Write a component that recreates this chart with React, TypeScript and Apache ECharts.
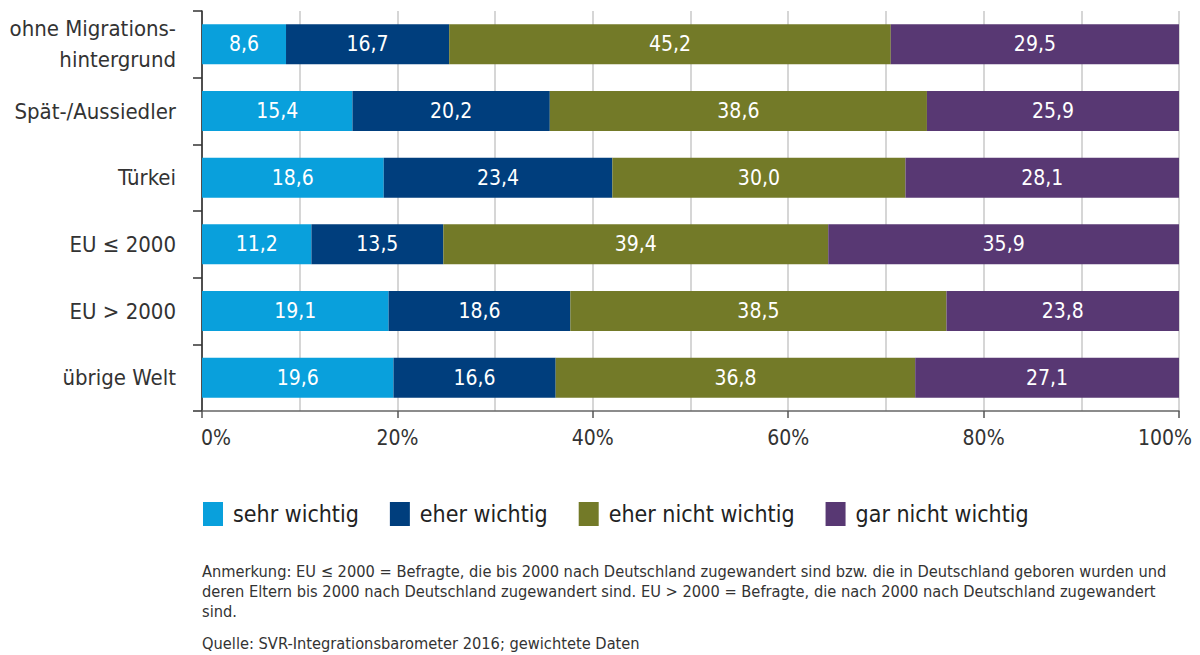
import React, { useEffect, useRef } from "react";
import * as echarts from "echarts";

const categories = [
  "ohne Migrations-\nhintergrund",
  "Spät-/Aussiedler",
  "Türkei",
  "EU ≤ 2000",
  "EU > 2000",
  "übrige Welt",
];
const seriesNames = ["sehr wichtig", "eher wichtig", "eher nicht wichtig", "gar nicht wichtig"];
const sehrWichtig = [8.6, 15.4, 18.6, 11.2, 19.1, 19.6];
const eherWichtig = [16.7, 20.2, 23.4, 13.5, 18.6, 16.6];
const eherNichtWichtig = [45.2, 38.6, 30.0, 39.4, 38.5, 36.8];
const garNichtWichtig = [29.5, 25.9, 28.1, 35.9, 23.8, 27.1];
const colors = ["#09a0dc", "#003e7d", "#737a28", "#583873"];
const footnoteLines = [
  "Anmerkung: EU ≤ 2000 = Befragte, die bis 2000 nach Deutschland zugewandert sind bzw. die in Deutschland geboren wurden und",
  "deren Eltern bis 2000 nach Deutschland zugewandert sind. EU > 2000 = Befragte, die nach 2000 nach Deutschland zugewandert",
  "sind.",
];
const sourceLine = "Quelle: SVR-Integrationsbarometer 2016; gewichtete Daten";

const FONT = "'Liberation Sans Narrow', 'DejaVu Sans Condensed', 'Noto Sans', sans-serif";

export default function App() {
  const ref = useRef<HTMLDivElement>(null);
  useEffect(() => {
    if (!ref.current) return;
    const chart = echarts.init(ref.current, null, { renderer: "svg" });
    const allData = [sehrWichtig, eherWichtig, eherNichtWichtig, garNichtWichtig];
    const option: any = {
      animation: false,
      textStyle: { fontFamily: FONT },
      grid: { left: 202, right: 21, top: 11, bottom: 244 },
      legend: {
        left: 198,
        top: 497,
        icon: "rect",
        itemWidth: 20,
        itemHeight: 24,
        itemGap: 31,
        textStyle: { fontSize: 23, color: "#222", fontFamily: FONT, padding: [0, 0, 0, 5] },
        data: seriesNames,
      },
      xAxis: {
        type: "value",
        min: 0,
        max: 100,
        interval: 20,
        axisLine: { show: true, lineStyle: { color: "#666", width: 1.5 } },
        axisTick: { show: true, length: 7, lineStyle: { color: "#555", width: 1.5 } },
        axisLabel: {
          margin: 16,
          fontSize: 21,
          color: "#333",
          fontFamily: FONT,
          formatter: (v: number) =>
            v === 0 ? "{a|0%}" : v === 100 ? "{b|100%}" : "{c|" + v + "%}",
          rich: {
            a: { fontSize: 21, color: "#333", fontFamily: FONT, padding: [0, 0, 0, 28] },
            b: { fontSize: 21, color: "#333", fontFamily: FONT, padding: [0, 28, 0, 0] },
            c: { fontSize: 21, color: "#333", fontFamily: FONT },
          },
        },
        splitLine: { show: true, lineStyle: { color: "#c8c8c8", width: 1.5 } },
        minorTick: { show: false, splitNumber: 2 },
        minorSplitLine: { show: true, lineStyle: { color: "#c8c8c8", width: 1.5 } },
      },
      yAxis: {
        type: "category",
        inverse: true,
        data: categories,
        axisLine: { show: true, lineStyle: { color: "#222", width: 1.5 } },
        axisTick: { show: true, length: 9, lineStyle: { color: "#333", width: 1.5 } },
        axisLabel: {
          margin: 26,
          fontSize: 22,
          lineHeight: 31,
          color: "#333",
          fontFamily: FONT,
          align: "right",
        },
      },
      series: seriesNames.map((name, i) => ({
        name,
        type: "bar",
        stack: "total",
        barCategoryGap: "40%",
        itemStyle: { color: colors[i] },
        label: {
          show: true,
          position: "inside",
          color: "#fff",
          fontSize: 21,
          fontFamily: FONT,
          formatter: (p: any) => p.value.toFixed(1).replace(".", ","),
        },
        data: allData[i],
      })),
      graphic: [
        ...footnoteLines.map((t, i) => ({
          type: "text",
          left: 202,
          top: 563 + i * 20,
          style: { text: t, fontSize: 16.3, fill: "#333", fontFamily: FONT },
        })),
        {
          type: "text",
          left: 202,
          top: 635,
          style: { text: sourceLine, fontSize: 16.3, fill: "#333", fontFamily: FONT },
        },
      ],
    };
    chart.setOption(option);
    return () => chart.dispose();
  }, []);
  return (
    <div
      ref={ref}
      style={{ position: "fixed", left: 0, top: 0, width: 1200, height: 655, background: "#fff" }}
    />
  );
}
